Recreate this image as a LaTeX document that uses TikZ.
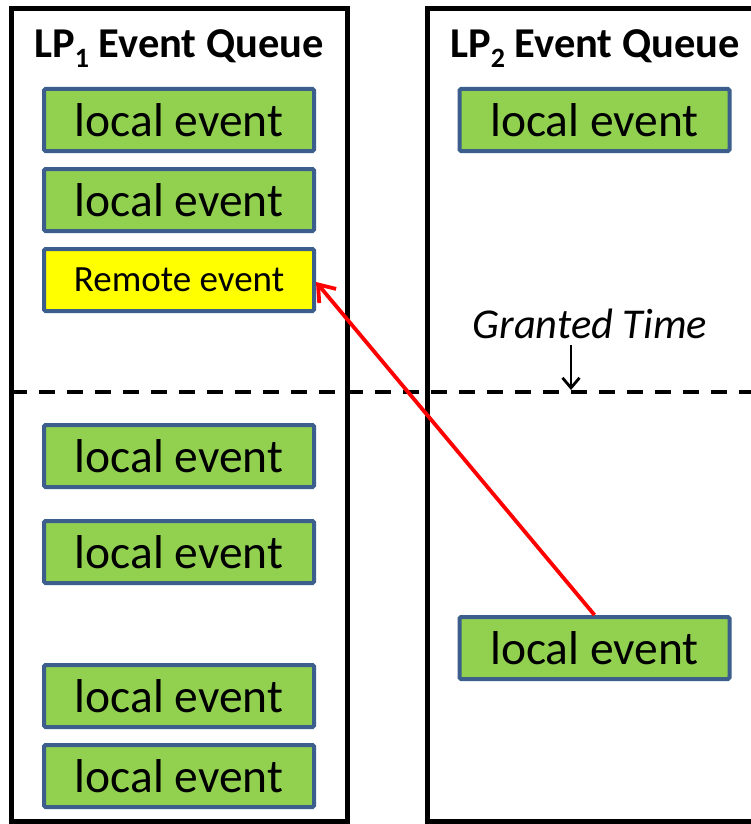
\documentclass[tikz,border=0pt]{standalone}
\usepackage{fontspec}
\setmainfont{Carlito}
\usetikzlibrary{arrows.meta}
\definecolor{evgreen}{HTML}{92D050}
\definecolor{evborder}{HTML}{3B5E8C}
\definecolor{evyellow}{HTML}{FFFF00}
\tikzset{
  queue/.style={draw=black, line width=5pt},
  evbox/.style={draw=evborder, line width=4pt, rounded corners=1.5pt,
    minimum width=270pt, minimum height=62pt, inner sep=0pt, text=black},
  localev/.style={evbox, fill=evgreen, font=\fontsize{47.5}{47.5}\selectfont},
  remoteev/.style={evbox, fill=evyellow, font=\fontsize{37}{37}\selectfont},
  title/.style={font=\fontsize{42.5}{42.5}\selectfont\bfseries, anchor=base, inner sep=0pt},
}
\newcommand{\lpsub}[1]{\raisebox{-0.22em}{\fontsize{28}{28}\selectfont #1}}
\begin{document}
\begin{tikzpicture}[x=1pt, y=-1pt]
  \useasboundingbox (0,0) rectangle (751,824);
  % queue frames
  \draw[queue] (11.5,8.5) rectangle (347,821.5);
  \draw[queue] (765,8.5) -- (427,8.5) -- (427,821.5) -- (765,821.5);
  % titles
  \node[title] (t1) at (179,58) {LP\lpsub{1} Event Queue};
  \node[title] (t2) at (595,58) {LP\lpsub{2} Event Queue};
  % granted time boundary
  \draw[line width=3.5pt, dash pattern=on 16pt off 12pt, dash phase=17pt] (0,392) -- (751,392);
  \node[font=\fontsize{42.5}{42.5}\selectfont\itshape, anchor=base, inner sep=0pt]
    (gt) at (590,338) {Granted Time};
  \coordinate (gtarrow) at (571,390);
  \draw[line width=2.8pt, -{Straight Barb[length=10pt,width=17pt,line width=2.8pt]}]
    (571,345) -- (gtarrow);
  % LP1 events
  \node[localev] (a1) at (179,120) {local event};
  \node[localev] (a2) at (179,200) {local event};
  \node[remoteev] (rem) at (179,280) {Remote event};
  \node[localev] (a4) at (179,456) {local event};
  \node[localev] (a5) at (179,552) {local event};
  \node[localev] (a6) at (179,696) {local event};
  \node[localev] (a7) at (179,776) {local event};
  % LP2 events
  \node[localev] (b1) at (594.5,120) {local event};
  \node[localev] (b2) at (594.5,648) {local event};
  % remote message
  \draw[red, line width=3.8pt, -{Straight Barb[length=15pt,width=22pt,line width=3.8pt]}]
    (b2.north) -- ([yshift=-2pt]rem.east);
\end{tikzpicture}
\end{document}
